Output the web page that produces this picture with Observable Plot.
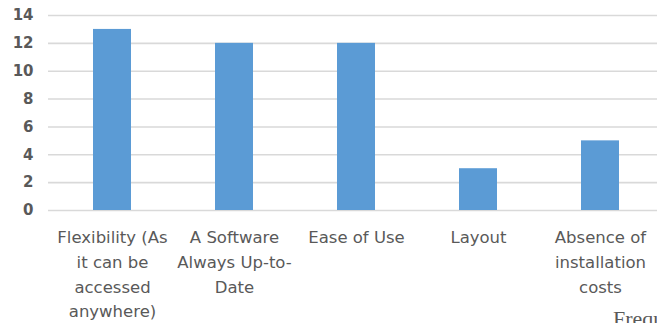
<!DOCTYPE html>
<html>
<head>
<meta charset="utf-8">
<script src="https://cdn.jsdelivr.net/npm/d3@7"></script>
<script src="https://cdn.jsdelivr.net/npm/@observablehq/plot@0.6"></script>
<style>
  html, body { margin: 0; padding: 0; background: #fff; overflow: hidden; width: 657px; height: 323px; }
  #wrap { position: relative; width: 657px; height: 323px; overflow: hidden; }
  #freq { position: absolute; left: 613px; top: 306px; font-family: "Liberation Serif", "DejaVu Serif", serif; font-size: 22px; line-height: 25px; color: #595959; white-space: nowrap; }
</style>
</head>
<body>
<div id="wrap"><div id="chart"></div><div id="freq">Frequency</div></div>
<script>
const categories = ["Flexibility", "Always Up-to-Date", "Ease of Use", "Layout", "Absence of installation costs"];
const values = [13, 12, 12, 3, 5];
const tickLabels = [
  "Flexibility (As\nit can be\naccessed\nanywhere)",
  "A Software\nAlways Up-to-\nDate",
  "Ease of Use",
  "Layout",
  "Absence of\ninstallation\ncosts"
];
const yTicks = [0, 2, 4, 6, 8, 10, 12, 14];

const data = categories.map((c, i) => ({category: c, value: values[i]}));
const labelOf = new Map(categories.map((c, i) => [c, tickLabels[i]]));

const chart = Plot.plot({
  width: 657,
  height: 323,
  marginLeft: 48,
  marginRight: 0,
  marginTop: 15,
  marginBottom: 113,
  style: {fontFamily: "'DejaVu Sans', sans-serif", fontSize: "16.5px", color: "#595959", background: "#fff", overflow: "visible"},
  x: {domain: categories, range: [50, 661], paddingInner: 0.69, paddingOuter: 0.345, align: 0.5},
  y: {domain: [0, 14], ticks: yTicks},
  marks: [
    Plot.gridY(yTicks, {stroke: "#d9d9d9", strokeOpacity: 1, strokeWidth: 1.6}),
    Plot.barY(data, {x: "category", y: "value", fill: "#5b9bd5"}),
    Plot.axisY({ticks: yTicks, tickSize: 0, tickPadding: 15, label: null, fontWeight: "bold", fontSize: 15, fill: "#595959"}),
    Plot.axisX({tickSize: 0, tickPadding: 15, label: null, tickFormat: d => labelOf.get(d), lineHeight: 1.5, fill: "#595959", fontSize: 16.5})
  ]
});
document.getElementById("chart").appendChild(chart);
</script>
</body>
</html>
